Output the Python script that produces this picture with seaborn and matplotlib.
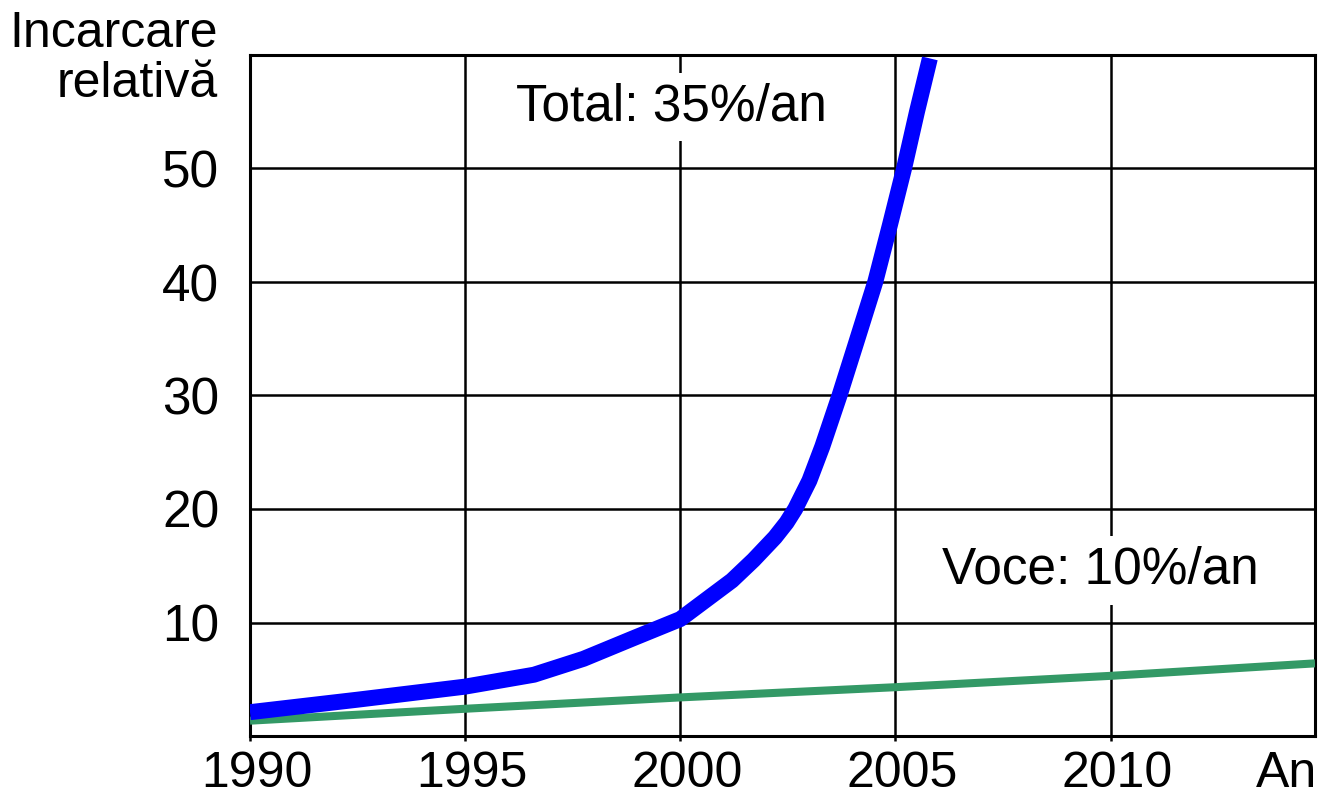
import numpy as np
import pandas as pd
import matplotlib
matplotlib.use("Agg")
import matplotlib.pyplot as plt
import matplotlib.transforms as mtrans
import seaborn as sns

# values
total_years = [1990, 1992.5, 1995, 1996.6, 1997.75, 1998.9, 2000, 2001.2, 2001.7,
               2002.2, 2002.47, 2002.67, 2003.0, 2003.3, 2003.7, 2004.1, 2004.53,
               2004.87, 2005.2, 2005.5, 2005.8]
total_vals = [2.1, 3.2, 4.35, 5.4, 6.8, 8.6, 10.3, 13.7, 15.5,
              17.5, 18.8, 20.0, 22.5, 25.5, 30, 34.8, 40,
              45, 50, 55, 59.7]
voce_years = [1990, 1995, 2000, 2005, 2010, 2014.75]
voce_vals = [1.35, 2.4, 3.4, 4.3, 5.3, 6.4]
x_ticks = [1990, 1995, 2000, 2005, 2010]
y_ticks = [10, 20, 30, 40, 50]

sns.set_theme(style="white")
plt.rcParams['font.family'] = ['Liberation Sans', 'DejaVu Sans']
plt.rcParams['text.color'] = 'black'

df_total = pd.DataFrame({"an": total_years, "val": total_vals})
df_voce = pd.DataFrame({"an": voce_years, "val": voce_vals})

FS = 37
XFS = 36
W, H = 1322, 806
fig = plt.figure(figsize=(W / 100, H / 100), dpi=100)
ax = fig.add_axes([250 / W, (H - 736) / H, (1315 - 250) / W, (736 - 55) / H])

sns.lineplot(data=df_voce, x="an", y="val", ax=ax, color="#339966", linewidth=5.8,
             solid_capstyle="butt", solid_joinstyle="round", zorder=3)
sns.lineplot(data=df_total, x="an", y="val", ax=ax, color="#0000ff", linewidth=11.5,
             solid_capstyle="butt", solid_joinstyle="round", zorder=4)

ax.set_xlim(1990, 2014.75)
ax.set_ylim(0, 60)
ax.set_xticks(x_ticks)
ax.set_yticks(y_ticks)
ax.set_xlabel("")
ax.set_ylabel("")
ax.grid(True, color="black", linewidth=1.8)
ax.set_axisbelow(True)
for s in ax.spines.values():
    s.set_visible(True)
    s.set_color("black")
    s.set_linewidth(2.2)
ax.tick_params(axis="x", length=3.6, width=1.8, color="black", direction="out",
               pad=7, labelsize=XFS, labelcolor="black", bottom=True)
ax.tick_params(axis="y", length=0, pad=22, labelsize=FS, labelcolor="black")
for lbl in ax.get_yticklabels():
    lbl.set_verticalalignment("center_baseline")
# labels in the reference sit a little right of their tick
shift = mtrans.ScaledTranslation(7 / 100, 0, fig.dpi_scale_trans)
for lbl in ax.get_xticklabels():
    lbl.set_transform(lbl.get_transform() + shift)

ax.annotate("An", xy=(2014.1, 0), xycoords=("data", "axes fraction"),
            xytext=(0, -10.6), textcoords="offset points", ha="center", va="top",
            fontsize=XFS, color="black")

box = dict(facecolor="white", edgecolor="none", pad=7)
ax.text(1999.8, 55.4, "Total: 35%/an", fontsize=FS, ha="center", va="center",
        color="black", bbox=box, zorder=2)
ax.text(2009.77, 14.6, "Voce: 10%/an", fontsize=FS, ha="center", va="center",
        color="black", bbox=box, zorder=2)

fig.text(218 / W, 1 - 59 / H, "Incarcare\nrelativă", fontsize=FS - 1, ha="right",
         va="center", multialignment="right", linespacing=1.1, color="black")

fig.savefig("out.png", dpi=100, facecolor="white")
